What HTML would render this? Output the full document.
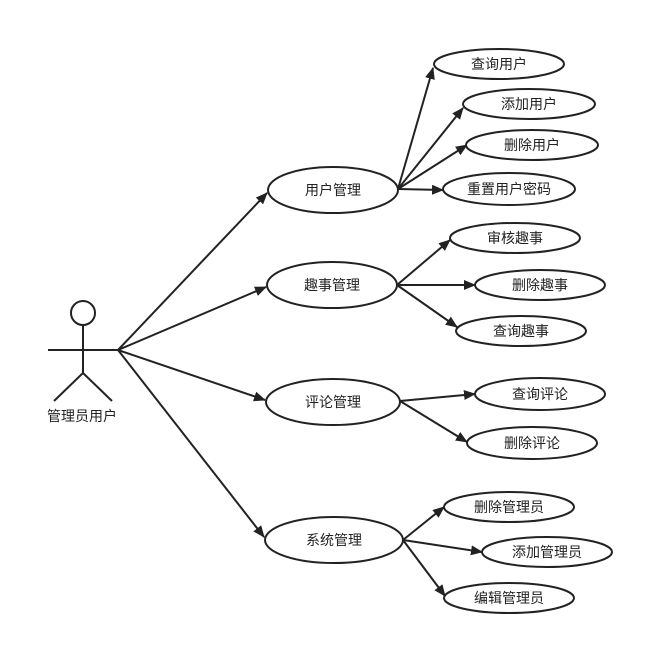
<!DOCTYPE html>
<html><head><meta charset="utf-8">
<style>
html,body{margin:0;padding:0;background:#fff;}
svg{display:block;}
text{font-family:"Liberation Sans","Noto Sans CJK SC",sans-serif;font-size:14px;fill:#222;text-anchor:middle;dominant-baseline:central;}
</style></head><body>
<svg width="645" height="645" viewBox="0 0 645 645" xmlns="http://www.w3.org/2000/svg">
<defs>
<marker id="a" markerWidth="12" markerHeight="10" refX="11" refY="5" orient="auto" markerUnits="userSpaceOnUse">
<path d="M0,0 L12,5 L0,10 Z" fill="#222"/>
</marker>
</defs>
<g stroke="#222" stroke-width="2" fill="none">
<!-- actor -->
<circle cx="83" cy="313" r="12" fill="#fff"/>
<line x1="83" y1="325" x2="83" y2="373"/>
<line x1="48" y1="350" x2="118" y2="350"/>
<line x1="83" y1="373" x2="54" y2="401"/>
<line x1="83" y1="373" x2="112" y2="401"/>
<!-- actor arrows -->
<line x1="118" y1="350" x2="267" y2="193" marker-end="url(#a)"/>
<line x1="118" y1="350" x2="266" y2="287" marker-end="url(#a)"/>
<line x1="118" y1="350" x2="265" y2="400" marker-end="url(#a)"/>
<line x1="118" y1="350" x2="264" y2="537" marker-end="url(#a)"/>
<!-- 用户管理 -->
<line x1="398" y1="189" x2="433" y2="68" marker-end="url(#a)"/>
<line x1="398" y1="189" x2="463" y2="108" marker-end="url(#a)"/>
<line x1="398" y1="189" x2="467" y2="145" marker-end="url(#a)"/>
<line x1="398" y1="189" x2="443" y2="190" marker-end="url(#a)"/>
<!-- 趣事管理 -->
<line x1="397" y1="285" x2="450" y2="240" marker-end="url(#a)"/>
<line x1="397" y1="285" x2="475" y2="285" marker-end="url(#a)"/>
<line x1="397" y1="285" x2="457" y2="327" marker-end="url(#a)"/>
<!-- 评论管理 -->
<line x1="400" y1="401" x2="475" y2="394" marker-end="url(#a)"/>
<line x1="400" y1="401" x2="467" y2="442" marker-end="url(#a)"/>
<!-- 系统管理 -->
<line x1="403" y1="540" x2="444" y2="507" marker-end="url(#a)"/>
<line x1="403" y1="540" x2="482" y2="552" marker-end="url(#a)"/>
<line x1="403" y1="540" x2="445" y2="596" marker-end="url(#a)"/>
<!-- main ellipses -->
<ellipse cx="333" cy="190" rx="65" ry="23" fill="#fff"/>
<ellipse cx="332" cy="285" rx="65" ry="23" fill="#fff"/>
<ellipse cx="333" cy="402" rx="67" ry="23" fill="#fff"/>
<ellipse cx="334" cy="540" rx="69" ry="23" fill="#fff"/>
<!-- sub ellipses -->
<ellipse cx="499" cy="64" rx="65" ry="15" fill="#fff"/>
<ellipse cx="529" cy="104" rx="66" ry="15" fill="#fff"/>
<ellipse cx="532" cy="145" rx="66" ry="15" fill="#fff"/>
<ellipse cx="509" cy="189" rx="66" ry="16" fill="#fff"/>
<ellipse cx="515" cy="238" rx="65" ry="15" fill="#fff"/>
<ellipse cx="540" cy="285" rx="65" ry="15" fill="#fff"/>
<ellipse cx="521" cy="331" rx="65" ry="15" fill="#fff"/>
<ellipse cx="540" cy="394" rx="65" ry="16" fill="#fff"/>
<ellipse cx="532" cy="443" rx="65" ry="16" fill="#fff"/>
<ellipse cx="509" cy="507" rx="65" ry="15" fill="#fff"/>
<ellipse cx="547" cy="552" rx="65" ry="15" fill="#fff"/>
<ellipse cx="509" cy="598" rx="65" ry="15" fill="#fff"/>
</g>
<text x="82" y="416">管理员用户</text>
<text x="333" y="190">用户管理</text>
<text x="332" y="285">趣事管理</text>
<text x="333" y="402">评论管理</text>
<text x="334" y="540">系统管理</text>
<text x="499" y="64">查询用户</text>
<text x="529" y="104">添加用户</text>
<text x="532" y="145">删除用户</text>
<text x="509" y="189">重置用户密码</text>
<text x="515" y="238">审核趣事</text>
<text x="540" y="285">删除趣事</text>
<text x="521" y="331">查询趣事</text>
<text x="540" y="394">查询评论</text>
<text x="532" y="443">删除评论</text>
<text x="509" y="507">删除管理员</text>
<text x="547" y="552">添加管理员</text>
<text x="509" y="598">编辑管理员</text>
</svg>
</body></html>
